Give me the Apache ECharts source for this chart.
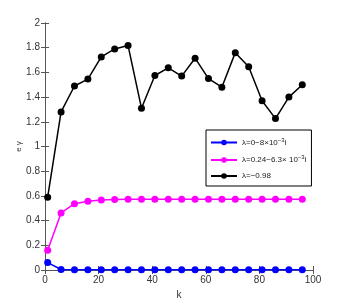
<!DOCTYPE html>
<html><head><meta charset="utf-8">
<script src="https://cdn.jsdelivr.net/npm/echarts@6/dist/echarts.min.js"></script>
<style>html,body{margin:0;padding:0;background:#fff}#c{width:346px;height:305px}</style>
</head><body><div id="c"></div>
<script>
const kValues = [1,6,11,16,21,26,31,36,41,46,51,56,61,66,71,76,81,86,91,96];
const blueValues = [0.06,0.004,0.003,0.003,0.003,0.003,0.003,0.003,0.003,0.003,0.003,0.003,0.003,0.003,0.003,0.003,0.003,0.003,0.003,0.003];
const magentaValues = [0.16,0.462,0.537,0.557,0.567,0.571,0.572,0.572,0.572,0.572,0.572,0.572,0.572,0.572,0.572,0.572,0.572,0.572,0.572,0.572];
const blackValues = [0.59,1.28,1.49,1.546,1.725,1.79,1.817,1.31,1.575,1.637,1.57,1.715,1.55,1.48,1.76,1.645,1.37,1.226,1.40,1.50];
const seriesNames = ['λ=0−8×10⁻³i','λ=0.24−6.3×10⁻³i','λ=−0.98'];
const legendRich = {
  'λ=0−8×10⁻³i': '{a|λ=0−8×10}{s|−3}{a|i}',
  'λ=0.24−6.3×10⁻³i': '{a|λ=0.24−6.3× 10}{s|−3}{a|i}',
  'λ=−0.98': '{a|λ=−0.98}'
};
const xTicks = [0,20,40,60,80,100];
const yTicks = [0,0.2,0.4,0.6,0.8,1,1.2,1.4,1.6,1.8,2];

const chart = echarts.init(document.getElementById('c'));
function mk(vals){return kValues.map((k,i)=>[k,vals[i]]);}
const axisCol = '#555';
const lbl = {color:'#333', fontSize:10, fontFamily:'Liberation Sans, Arial, sans-serif'};
chart.setOption({
  backgroundColor:'#fff',
  animation:false,
  grid:{left:45,right:33,top:23,bottom:34},
  xAxis:[{type:'value',min:0,max:100,interval:20,
    name:'k',nameLocation:'middle',nameGap:20,nameMoveOverlap:false,nameTextStyle:lbl,
    axisLine:{lineStyle:{color:axisCol,width:1}},
    axisTick:{inside:true,length:4,lineStyle:{color:axisCol}},
    axisLabel:Object.assign({margin:5},lbl),splitLine:{show:false}},
   {type:'value',min:0,max:100,interval:20,position:'top',
    axisLine:{show:true,lineStyle:{color:axisCol,width:1}},
    axisTick:{inside:true,length:4,lineStyle:{color:axisCol}},
    axisLabel:{show:false},splitLine:{show:false}}],
  yAxis:[{type:'value',min:0,max:2,interval:0.2,
    name:'e γ',nameLocation:'middle',nameGap:22,nameMoveOverlap:false,nameRotate:90,nameTextStyle:Object.assign({},lbl,{fontSize:8}),
    axisLine:{show:true,lineStyle:{color:axisCol,width:1}},
    axisTick:{show:true,inside:true,length:4,lineStyle:{color:axisCol}},
    axisLabel:Object.assign({margin:5,formatter:v=>String(Math.round(v*10)/10)},lbl),splitLine:{show:false}},
   {type:'value',min:0,max:2,interval:0.2,position:'right',
    axisLine:{show:true,lineStyle:{color:axisCol,width:1}},
    axisTick:{show:true,inside:true,length:4,lineStyle:{color:axisCol}},
    axisLabel:{show:false},splitLine:{show:false}}],
  legend:{
    orient:'vertical',left:206,top:130,
    backgroundColor:'#fff',borderColor:'#000',borderWidth:1,
    padding:[7,5,6,4],itemGap:8,itemWidth:26,itemHeight:7,
    data:seriesNames,
    formatter:n=>legendRich[n],
    textStyle:{rich:{a:{fontSize:8,color:'#222',fontFamily:'Liberation Sans, Arial, sans-serif'},s:{fontSize:6,color:'#222',verticalAlign:'top',padding:[0,0,5,0],fontFamily:'Liberation Sans, Arial, sans-serif'}}}
  },
  series:[
    {name:seriesNames[0],type:'line',data:mk(blueValues),color:'#0000ff',symbol:'circle',symbolSize:7,lineStyle:{width:1.5,color:'#0000ff'},itemStyle:{color:'#0000ff'}},
    {name:seriesNames[1],type:'line',data:mk(magentaValues),color:'#ff00ff',symbol:'circle',symbolSize:7,lineStyle:{width:1.5,color:'#ff00ff'},itemStyle:{color:'#ff00ff'}},
    {name:seriesNames[2],type:'line',data:mk(blackValues),color:'#000000',symbol:'circle',symbolSize:7,lineStyle:{width:1.5,color:'#000'},itemStyle:{color:'#000'}}
  ]
});
</script></body></html>
